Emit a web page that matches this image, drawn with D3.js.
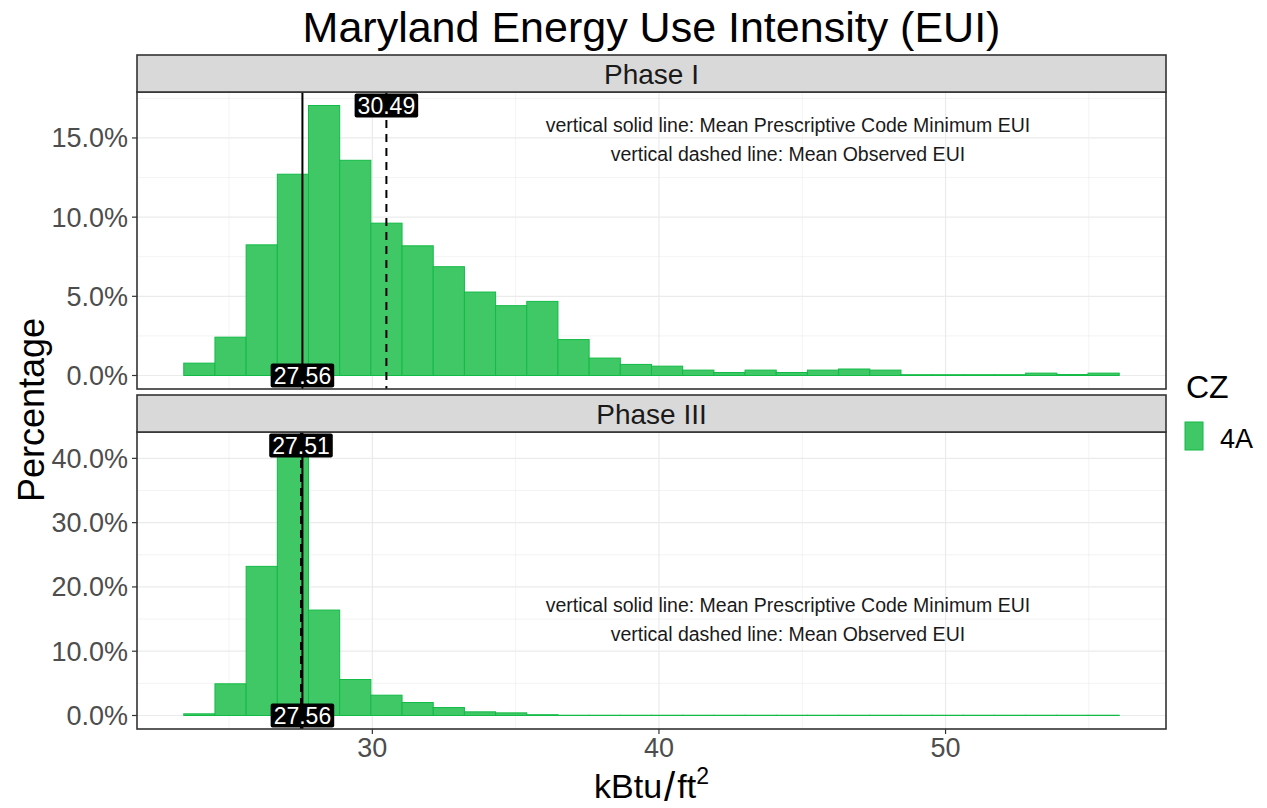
<!DOCTYPE html>
<html><head><meta charset="utf-8">
<script src="https://cdn.jsdelivr.net/npm/d3@7"></script>
<style>body{margin:0;background:#fff}svg{display:block}text{font-family:"Liberation Sans",Arial,sans-serif}</style>
</head><body><svg id="c" width="1267" height="808"></svg>
<script>
// ---- data ----
const phases = ["Phase I", "Phase III"];
const binMin = 23.42;          // kBtu/ft2, left edge of first bin
const binWidth = 1.088;        // kBtu/ft2
const phase1Pct = [0.78, 2.42, 8.25, 12.71, 17.05, 13.59, 9.62, 8.19, 6.87, 5.27,
                   4.41, 4.68, 2.27, 1.10, 0.70, 0.59, 0.34, 0.19, 0.34, 0.19,
                   0.34, 0.41, 0.34, 0.05, 0.05, 0.05, 0.05, 0.15, 0.06, 0.15];
const phase3Pct = [0.26, 4.93, 23.2, 40.4, 16.4, 5.6, 3.16, 2.02, 1.24, 0.57,
                   0.41, 0.12, 0.04, 0.04, 0.04, 0.04, 0.04, 0.04, 0.04, 0.04,
                   0.04, 0.04, 0.04, 0.04, 0.04, 0.04, 0.04, 0.04, 0.04, 0.04];
const codeMinEUI = [27.56, 27.56];      // solid line
const observedEUI = [30.49, 27.51];     // dashed line
const yMaxPct = [17.05, 42.0];          // top of y range (label height)
const yTicks = [[0, 5, 10, 15], [0, 10, 20, 30, 40]];
const xTicks = [30, 40, 50];
const xMinor = [25, 35, 45, 55];
const legendTitle = "CZ";
const legendLabels = ["4A"];
const annotationLines = ["vertical solid line: Mean Prescriptive Code Minimum EUI",
                         "vertical dashed line: Mean Observed EUI"];
const annotationX = 44.5, annotationY = 14.85;

// ---- layout ----
const svg = d3.select("#c");
const L = 137, R = 1166;
const panelBoxes = [{y0: 92, y1: 389, s0: 55}, {y0: 432, y1: 729, s0: 395}];
const fillC = "#41c866", strokeC = "#12ba46";
const seriesPct = [phase1Pct, phase3Pct];

const span = phase1Pct.length * binWidth;
const x = d3.scaleLinear().domain([binMin - 0.05 * span, binMin + span + 0.05 * span]).range([L, R]);

function txt(g, px, py, s, size, opts = {}) {
  return g.append("text")
    .attr("transform", `translate(${px},${py})${opts.rot ? " rotate(" + opts.rot + ")" : ""}`)
    .attr("text-anchor", opts.anchor || "start")
    .attr("font-size", size)
    .attr("fill", opts.fill || "#000")
    .text(s);
}

// title
txt(svg, (L + R) / 2, 42, "Maryland Energy Use Intensity (EUI)", 43, {anchor: "middle"});

panelBoxes.forEach((pb, i) => {
  const M = yMaxPct[i];
  const y = d3.scaleLinear().domain([-0.05 * M, 1.05 * M]).range([pb.y1, pb.y0]);
  const g = svg.append("g");
  const step = yTicks[i][1] - yTicks[i][0];
  const yMinor = yTicks[i].map(v => v + step / 2).filter(v => y(v) > pb.y0);
  g.selectAll(".gmy").data(yMinor).join("line").attr("x1", L).attr("x2", R)
    .attr("y1", d => y(d)).attr("y2", d => y(d)).attr("stroke", "#ebebeb").attr("stroke-width", 0.6);
  g.selectAll(".gmx").data(xMinor).join("line").attr("y1", pb.y0).attr("y2", pb.y1)
    .attr("x1", d => x(d)).attr("x2", d => x(d)).attr("stroke", "#ebebeb").attr("stroke-width", 0.6);
  g.selectAll(".gy").data(yTicks[i]).join("line").attr("x1", L).attr("x2", R)
    .attr("y1", d => y(d)).attr("y2", d => y(d)).attr("stroke", "#ebebeb").attr("stroke-width", 1.2);
  g.selectAll(".gx").data(xTicks).join("line").attr("y1", pb.y0).attr("y2", pb.y1)
    .attr("x1", d => x(d)).attr("x2", d => x(d)).attr("stroke", "#ebebeb").attr("stroke-width", 1.2);
  // bars
  const bins = seriesPct[i].map((p, k) => ({x0: binMin + k * binWidth, x1: binMin + (k + 1) * binWidth, p}));
  g.selectAll(".bar").data(bins).join("rect")
    .attr("x", d => x(d.x0)).attr("width", d => x(d.x1) - x(d.x0))
    .attr("y", d => y(d.p)).attr("height", d => y(0) - y(d.p))
    .attr("fill", fillC).attr("stroke", strokeC).attr("stroke-width", 1);
  // vertical lines
  g.append("line").attr("x1", x(codeMinEUI[i])).attr("x2", x(codeMinEUI[i]))
    .attr("y1", pb.y0).attr("y2", pb.y1).attr("stroke", "#000").attr("stroke-width", 2);
  g.append("line").attr("x1", x(observedEUI[i])).attr("x2", x(observedEUI[i]))
    .attr("y1", pb.y0).attr("y2", pb.y1).attr("stroke", "#000").attr("stroke-width", 2)
    .attr("stroke-dasharray", "8,6");
  // labels
  function label(v, yv) {
    const lg = g.append("g");
    const t = txt(lg, x(v), y(yv) + 8, v.toFixed(2), 23, {anchor: "middle", fill: "#fff"});
    const w = t.node().getComputedTextLength() + 6;
    lg.insert("rect", "text").attr("x", x(v) - w / 2).attr("y", y(yv) - 12).attr("width", w).attr("height", 24)
      .attr("rx", 2).attr("fill", "#000");
  }
  label(observedEUI[i], M);
  label(codeMinEUI[i], 0);
  // annotation
  annotationLines.forEach((s, k) => {
    txt(g, x(annotationX), y(annotationY) - 8 + k * 29, s, 19.5, {anchor: "middle", fill: "#1a1a1a"});
  });
  // panel border
  g.append("rect").attr("x", L).attr("y", pb.y0).attr("width", R - L).attr("height", pb.y1 - pb.y0)
    .attr("fill", "none").attr("stroke", "#333").attr("stroke-width", 1.6);
  // strip
  svg.append("rect").attr("x", L).attr("y", pb.s0).attr("width", R - L).attr("height", pb.y0 - pb.s0)
    .attr("fill", "#d9d9d9").attr("stroke", "#333").attr("stroke-width", 1.6);
  txt(svg, (L + R) / 2, (pb.s0 + pb.y0) / 2 + 10, phases[i], 28, {anchor: "middle", fill: "#1a1a1a"});
  // y axis
  yTicks[i].forEach(v => {
    svg.append("line").attr("x1", L - 5).attr("x2", L).attr("y1", y(v)).attr("y2", y(v))
      .attr("stroke", "#333").attr("stroke-width", 1.2);
    txt(svg, L - 9, y(v) + 9.5, v.toFixed(1) + "%", 27, {anchor: "end", fill: "#4d4d4d"});
  });
  if (i === 1) {
    xTicks.forEach(v => {
      svg.append("line").attr("x1", x(v)).attr("x2", x(v)).attr("y1", pb.y1).attr("y2", pb.y1 + 5)
        .attr("stroke", "#333").attr("stroke-width", 1.2);
      txt(svg, x(v), pb.y1 + 28, String(v), 27, {anchor: "middle", fill: "#4d4d4d"});
    });
  }
});

// x axis title kBtu/ft^2
const xt = svg.append("text").attr("transform", `translate(${(L + R) / 2},798)`)
  .attr("text-anchor", "middle").attr("font-size", 34);
xt.append("tspan").text("kBtu");
xt.append("tspan").attr("dx", 2).attr("font-size", 40).attr("dy", 3).text("/");
xt.append("tspan").attr("dx", 2).attr("dy", -3).text("ft");
xt.append("tspan").attr("font-size", 23).attr("dy", -14).text("2");

// y axis title
txt(svg, 44, 410, "Percentage", 36, {anchor: "middle", rot: -90});

// legend
txt(svg, 1186, 398, legendTitle, 32, {});
legendLabels.forEach((s, k) => {
  svg.append("rect").attr("x", 1185).attr("y", 422 + k * 30).attr("width", 18).attr("height", 28)
    .attr("fill", fillC).attr("stroke", strokeC).attr("stroke-width", 1);
  txt(svg, 1220, 448 + k * 30, s, 27, {fill: "#000"});
});
</script></body></html>
